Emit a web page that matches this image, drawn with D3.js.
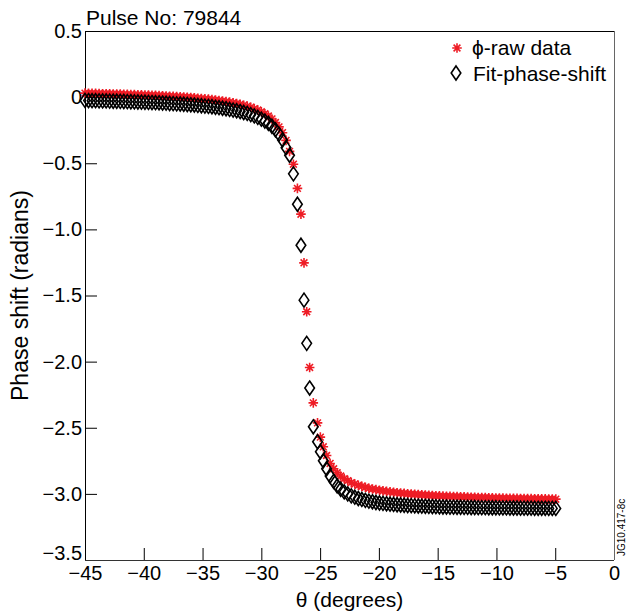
<!DOCTYPE html>
<html>
<head>
<meta charset="utf-8">
<script src="https://cdn.jsdelivr.net/npm/d3@7"></script>
<style>
  body { margin: 0; background: #fff; }
  svg { display: block; font-family: "Liberation Sans", Arial, Helvetica, sans-serif; }
</style>
</head>
<body>
<svg id="chart" width="627" height="615"></svg>
<script>
// ---- data ----
const theta = [
  -45.0, -44.7, -44.4, -44.1, -43.8, -43.5, -43.2, -42.9, -42.6, -42.3,
  -42.0, -41.7, -41.4, -41.1, -40.8, -40.5, -40.2, -39.9, -39.6, -39.3,
  -39.0, -38.7, -38.4, -38.1, -37.8, -37.5, -37.2, -36.9, -36.6, -36.3,
  -36.0, -35.7, -35.4, -35.1, -34.8, -34.5, -34.2, -33.9, -33.6, -33.3,
  -33.0, -32.7, -32.4, -32.1, -31.8, -31.5, -31.2, -30.9, -30.6, -30.3,
  -30.0, -29.7, -29.4, -29.1, -28.8, -28.5, -28.2, -27.9,
  -27.6, -27.27, -26.93, -26.63, -26.37, -26.14, -25.89, -25.58, -25.22, -24.98, -24.73,
  -24.45, -24.15, -23.85, -23.55, -23.25, -22.95, -22.65, -22.35, -22.05,
  -21.75, -21.45, -21.15, -20.85, -20.55, -20.25, -19.95, -19.65, -19.35, -19.05,
  -18.75, -18.45, -18.15, -17.85, -17.55, -17.25, -16.95, -16.65, -16.35, -16.05,
  -15.75, -15.45, -15.15, -14.85, -14.55, -14.25, -13.95, -13.65, -13.35, -13.05,
  -12.75, -12.45, -12.15, -11.85, -11.55, -11.25, -10.95, -10.65, -10.35, -10.05,
  -9.75, -9.45, -9.15, -8.85, -8.55, -8.25, -7.95, -7.65, -7.35, -7.05,
  -6.75, -6.45, -6.15, -5.85, -5.55, -5.25, -4.95
];
const phiRaw = [
  0.030, 0.029, 0.028, 0.028, 0.027, 0.026, 0.026, 0.025, 0.024, 0.024,
  0.023, 0.022, 0.021, 0.020, 0.019, 0.018, 0.017, 0.016, 0.015, 0.014,
  0.013, 0.012, 0.010, 0.009, 0.007, 0.006, 0.004, 0.003, 0.001, -0.001,
  -0.003, -0.005, -0.008, -0.010, -0.013, -0.015, -0.018, -0.022, -0.025, -0.029,
  -0.033, -0.038, -0.043, -0.048, -0.054, -0.061, -0.068, -0.077, -0.087, -0.098,
  -0.111, -0.126, -0.143, -0.165, -0.192, -0.225, -0.269, -0.327,
  -0.41, -0.507, -0.69, -0.885, -1.253, -1.623, -2.044, -2.312, -2.463, -2.571, -2.644,
  -2.71, -2.77, -2.81, -2.84, -2.865, -2.885, -2.90, -2.915, -2.925,
  -2.935, -2.943, -2.95, -2.957, -2.963, -2.968, -2.973, -2.977, -2.981, -2.985,
  -2.988, -2.991, -2.994, -2.996, -2.999, -3.001, -3.003, -3.005, -3.007, -3.009,
  -3.011, -3.012, -3.014, -3.015, -3.017, -3.018, -3.019, -3.020, -3.021, -3.022,
  -3.023, -3.024, -3.025, -3.026, -3.027, -3.028, -3.028, -3.029, -3.030, -3.031,
  -3.031, -3.032, -3.033, -3.033, -3.034, -3.034, -3.035, -3.035, -3.036, -3.036,
  -3.037, -3.037, -3.038, -3.038, -3.039, -3.039, -3.040
];
const phiFit = [
  -0.025, -0.026, -0.027, -0.027, -0.028, -0.029, -0.029, -0.030, -0.031, -0.031,
  -0.032, -0.033, -0.034, -0.035, -0.036, -0.037, -0.038, -0.039, -0.040, -0.041,
  -0.042, -0.043, -0.045, -0.046, -0.048, -0.049, -0.051, -0.052, -0.054, -0.056,
  -0.058, -0.060, -0.063, -0.065, -0.068, -0.070, -0.073, -0.077, -0.080, -0.084,
  -0.088, -0.093, -0.098, -0.103, -0.109, -0.116, -0.123, -0.132, -0.142, -0.153,
  -0.166, -0.181, -0.198, -0.220, -0.247, -0.280, -0.324, -0.382,
  -0.44, -0.58, -0.81, -1.12, -1.535, -1.862, -2.20, -2.493, -2.606, -2.682, -2.75,
  -2.81, -2.865, -2.905, -2.94, -2.965, -2.985, -3.0, -3.015, -3.025,
  -3.035, -3.042, -3.049, -3.055, -3.06, -3.065, -3.069, -3.072, -3.075, -3.078,
  -3.08, -3.082, -3.084, -3.086, -3.088, -3.089, -3.091, -3.092, -3.093, -3.094,
  -3.095, -3.096, -3.097, -3.098, -3.099, -3.099, -3.1, -3.1, -3.101, -3.101,
  -3.102, -3.102, -3.103, -3.103, -3.104, -3.104, -3.104, -3.105, -3.105, -3.105,
  -3.106, -3.106, -3.106, -3.107, -3.107, -3.107, -3.108, -3.108, -3.108, -3.108,
  -3.109, -3.109, -3.109, -3.109, -3.11, -3.11, -3.11
];
const xTicks = [-45, -40, -35, -30, -25, -20, -15, -10, -5, 0];
const yTicks = [0.5, 0, -0.5, -1.0, -1.5, -2.0, -2.5, -3.0, -3.5];
const yTickLabels = ["0.5", "0", "\u22120.5", "\u22121.0", "\u22121.5", "\u22122.0", "\u22122.5", "\u22123.0", "\u22123.5"];
const seriesNames = ["\u03D5-raw data", "Fit-phase-shift"];
const titleText = "Pulse No: 79844";
const xTitle = "\u03B8 (degrees)";
const yTitle = "Phase shift (radians)";
const stampText = "JG10.417-8c";

// ---- layout ----
const svg = d3.select("#chart");
const L = 85, R = 614, T = 31, B = 560;
const x = d3.scaleLinear().domain([-45, 0]).range([L, R]);
const y = d3.scaleLinear().domain([-3.5, 0.5]).range([B, T]);
const RED = "#ee1c25";

const rawData = theta.map((t, i) => ({ x: t, y: phiRaw[i] }));
const fitData = theta.map((t, i) => ({ x: t, y: phiFit[i] }));

const asterisk = "M0,-4.8V4.8M-4.8,0H4.8M-3.4,-3.4L3.4,3.4M-3.4,3.4L3.4,-3.4";
const diamond = "M0,-7L4.8,0L0,7L-4.8,0Z";

// axes
const fmtX = d => d < 0 ? "\u2212" + Math.abs(d) : String(d);
const xAxis = d3.axisBottom(x).tickValues(xTicks).tickSize(-12).tickSizeOuter(0).tickPadding(6).tickFormat(fmtX);
const gx = svg.append("g").attr("transform", `translate(0,${B})`).call(xAxis);
gx.select(".domain").remove();
gx.selectAll(".tick line").attr("stroke", "#000").attr("stroke-width", 1);
gx.selectAll(".tick text").attr("font-size", 20).attr("fill", "#000")
  .attr("font-family", "Liberation Sans, Arial, sans-serif");

const yAxis = d3.axisLeft(y).tickValues(yTicks).tickSize(-12).tickSizeOuter(0).tickPadding(3)
  .tickFormat((d, i) => yTickLabels[i]);
const gy = svg.append("g").attr("transform", `translate(${L},0)`).call(yAxis);
gy.select(".domain").remove();
gy.selectAll(".tick line").attr("stroke", "#000").attr("stroke-width", 1);
gy.selectAll(".tick text").attr("font-size", 20).attr("fill", "#000")
  .attr("font-family", "Liberation Sans, Arial, sans-serif")
  .attr("y", d => d === -3.5 ? -7 : 0);

// frame
svg.append("line").attr("x1", L).attr("x2", R).attr("y1", T + 0.5).attr("y2", T + 0.5).attr("stroke", "#000");
svg.append("line").attr("x1", L + 0.5).attr("x2", L + 0.5).attr("y1", T).attr("y2", B).attr("stroke", "#000");
svg.append("line").attr("x1", L).attr("x2", R).attr("y1", B + 0.5).attr("y2", B + 0.5).attr("stroke", "#333");
svg.append("line").attr("x1", R + 0.5).attr("x2", R + 0.5).attr("y1", T).attr("y2", B).attr("stroke", "#666");

// series
svg.append("g").selectAll("path").data(rawData).join("path")
  .attr("d", asterisk)
  .attr("transform", d => `translate(${x(d.x)},${y(d.y)})`)
  .attr("fill", "none").attr("stroke", RED).attr("stroke-width", 1.6);

svg.append("g").selectAll("path").data(fitData).join("path")
  .attr("d", diamond)
  .attr("transform", d => `translate(${x(d.x)},${y(d.y)})`)
  .attr("fill", "none").attr("stroke", "#000").attr("stroke-width", 1.6);

// legend
const lg = svg.append("g");
lg.append("path").attr("d", asterisk).attr("transform", "translate(457,48)")
  .attr("fill", "none").attr("stroke", RED).attr("stroke-width", 1.6);
lg.append("path").attr("d", diamond).attr("transform", "translate(456,73)")
  .attr("fill", "none").attr("stroke", "#000").attr("stroke-width", 1.6);
lg.append("text").attr("x", 472).attr("y", 55).attr("font-size", 21).text(seriesNames[0]);
lg.append("text").attr("x", 473).attr("y", 81).attr("font-size", 21).text(seriesNames[1]);

// titles
svg.append("text").attr("x", 86).attr("y", 25).attr("font-size", 21).text(titleText);
svg.append("text").attr("x", (L + R) / 2).attr("y", 607).attr("text-anchor", "middle")
  .attr("font-size", 21).text(xTitle);
svg.append("text").attr("transform", `translate(28,${(T + B) / 2}) rotate(-90)`)
  .attr("text-anchor", "middle").attr("font-size", 23).text(yTitle);
svg.append("text").attr("transform", "translate(625,556) rotate(-90)")
  .attr("font-size", 10).text(stampText);
</script>
</body>
</html>
